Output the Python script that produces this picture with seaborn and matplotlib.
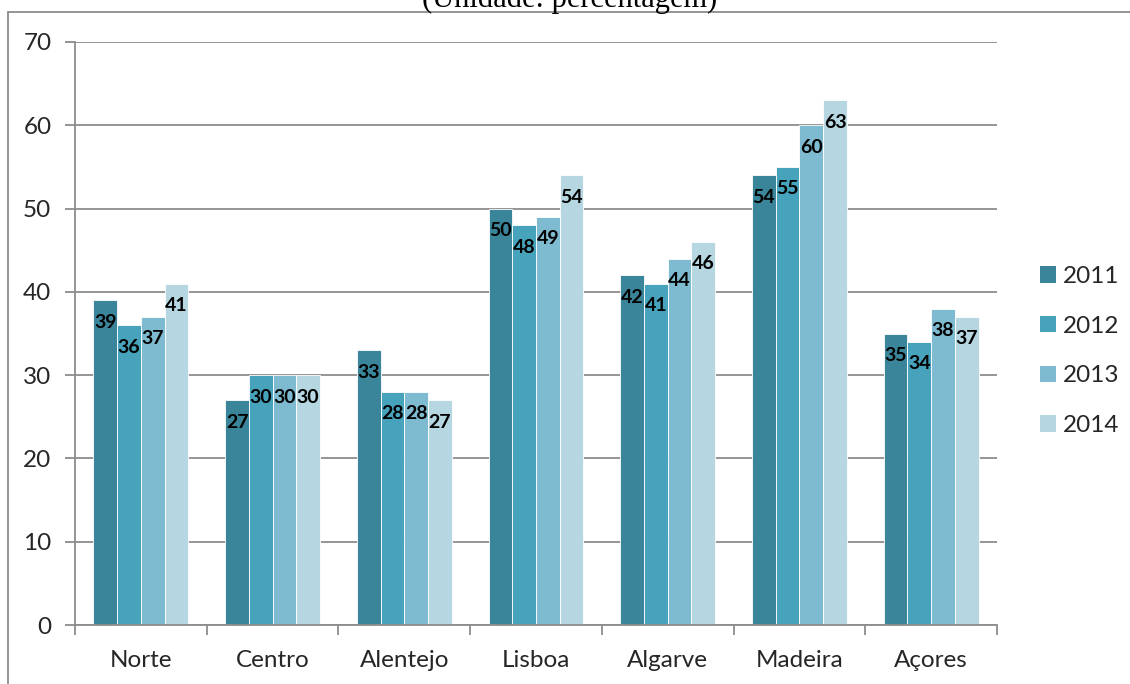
import matplotlib
matplotlib.use("Agg")
import matplotlib.pyplot as plt
import seaborn as sns
import pandas as pd
from matplotlib.lines import Line2D
from matplotlib.patches import Patch

regions = ["Norte", "Centro", "Alentejo", "Lisboa", "Algarve", "Madeira", "Açores"]
years = ["2011", "2012", "2013", "2014"]
v2011 = [39, 27, 33, 50, 42, 54, 35]
v2012 = [36, 30, 28, 48, 41, 55, 34]
v2013 = [37, 30, 28, 49, 44, 60, 38]
v2014 = [41, 30, 27, 54, 46, 63, 37]
yticks = [0, 10, 20, 30, 40, 50, 60, 70]
title = "(Unidade: percentagem)"

series = {"2011": v2011, "2012": v2012, "2013": v2013, "2014": v2014}
colors = ["#3A8599", "#47A3BB", "#7EBBD0", "#B6D6E2"]

rows = []
for y in years:
    for r, v in zip(regions, series[y]):
        rows.append({"Região": r, "Ano": y, "Valor": v})
df = pd.DataFrame(rows)

sns.set_theme(style="white")
plt.rcParams["font.family"] = ["Lato", "DejaVu Sans"]

W, H = 1130, 684
fig = plt.figure(figsize=(W / 100, H / 100), dpi=100)
ax = fig.add_axes([75 / W, 1 - 625 / H, (997 - 75) / W, (625 - 42) / H])

sns.barplot(data=df, x="Região", y="Valor", hue="Ano", hue_order=years,
            order=regions, palette=colors, width=0.72, saturation=1,
            edgecolor="white", linewidth=0.6, legend=False, ax=ax)

ax.set_ylim(0, 70)
ax.set_xlim(-0.5, len(regions) - 0.5)
ax.set_yticks(yticks)
ax.set_yticklabels([str(t) for t in yticks], fontsize=17.5)
ax.set_xlabel("")
ax.set_ylabel("")
ax.set_axisbelow(True)
ax.yaxis.grid(True, color="#8C8C8C", linewidth=1.3)
ax.xaxis.grid(False)
for s in ["top", "right"]:
    ax.spines[s].set_visible(False)
for s in ["left", "bottom"]:
    ax.spines[s].set_color("#8C8C8C")
    ax.spines[s].set_linewidth(1.3)

# x ticks: labels at centers, tick marks at boundaries
ax.set_xticks(range(len(regions)))
ax.set_xticklabels(regions, fontsize=17.5)
ax.tick_params(axis="x", which="major", length=0, pad=18)
ax.set_xticks([i - 0.5 for i in range(len(regions) + 1)], minor=True)
ax.tick_params(axis="x", which="minor", length=7, width=1.3, color="#8C8C8C", direction="out", bottom=True)
ax.tick_params(axis="y", length=7, width=1.3, color="#8C8C8C", direction="out", left=True, pad=10)

# data labels
for container, y in zip(ax.containers, years):
    for bar, v in zip(container.patches, series[y]):
        cx = bar.get_x() + bar.get_width() / 2
        ax.annotate(str(v), xy=(cx, v), xytext=(0, -22), textcoords="offset pixels",
                    ha="center", va="center", fontsize=14, fontweight="bold", color="black")

# legend
handles = [Patch(facecolor=c, edgecolor="none") for c in colors]
fig.legend(handles, years, loc="center left", bbox_to_anchor=(1028 / W, 1 - 351 / H),
           frameon=False, fontsize=17.5, handlelength=0.65, handleheight=0.65,
           handletextpad=0.3, labelspacing=1.18, borderpad=0)

# outer frame
fig.add_artist(Line2D([8 / W, 8 / W], [0, 1 - 12 / H], color="#8C8C8C", linewidth=1.3, transform=fig.transFigure))
fig.add_artist(Line2D([8 / W, 1], [1 - 12 / H, 1 - 12 / H], color="#8C8C8C", linewidth=1.3, transform=fig.transFigure))

# cut-off title
fig.text(570 / W, 1 - 7 / H, title, ha="center", va="baseline", fontsize=22,
         family=["Liberation Serif", "DejaVu Serif"], color="black")

fig.savefig("out.png", dpi=100)
